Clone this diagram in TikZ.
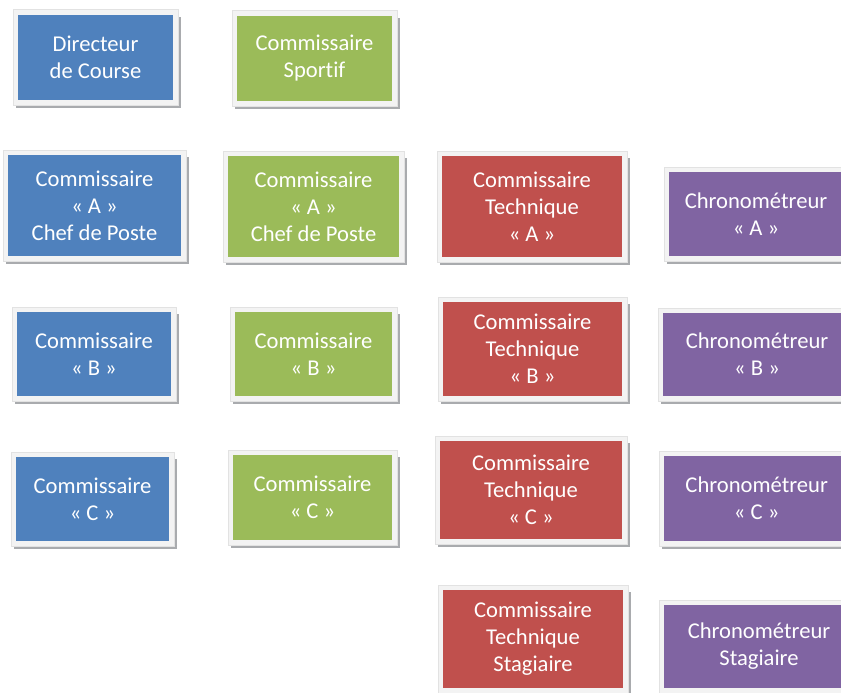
\documentclass[tikz,border=0pt]{standalone}
\usepackage{fontspec}
\setmainfont[Ligatures=NoCommon]{Carlito}
\usetikzlibrary{backgrounds}
\definecolor{cblue}{HTML}{4F81BD}
\definecolor{cgreen}{HTML}{9BBB59}
\definecolor{cred}{HTML}{C0504D}
\definecolor{cpurple}{HTML}{8064A2}
\definecolor{cframe}{HTML}{F3F3F3}
\definecolor{cframeedge}{HTML}{E2E2E2}
\definecolor{cshadow}{HTML}{A9ABAE}
\tikzset{
  kbox/.style={inner sep=0pt, text=white, align=center,
    font=\fontsize{22.6}{27}\selectfont},
}
\begin{document}
\begin{tikzpicture}[x=1pt,y=-1pt]
\useasboundingbox (0,0) rectangle (841,693);
\clip (0,0) rectangle (841,693);
% column 1 (blue)
\node[kbox, fill=cblue, minimum width=155pt, minimum height=85pt] (dc) at (95.5,57.5) {Directeur\\de Course};
\node[kbox, fill=cblue, minimum width=173pt, minimum height=101pt] (ba) at (94.5,205.5) {Commissaire\\« A »\\Chef de Poste};
\node[kbox, fill=cblue, minimum width=154pt, minimum height=84pt] (bb) at (94,354) {Commissaire\\« B »};
\node[kbox, fill=cblue, minimum width=153pt, minimum height=84pt] (bc) at (92.5,499) {Commissaire\\« C »};
% column 2 (green)
\node[kbox, fill=cgreen, minimum width=155pt, minimum height=85pt] (cs) at (314.5,58.5) {Commissaire\\Sportif};
\node[kbox, fill=cgreen, minimum width=171pt, minimum height=101pt] (ga) at (313.5,206.5) {Commissaire\\« A »\\Chef de Poste};
\node[kbox, fill=cgreen, minimum width=157pt, minimum height=84pt] (gb) at (313.5,354) {Commissaire\\« B »};
\node[kbox, fill=cgreen, minimum width=159pt, minimum height=85pt] (gc) at (312.5,497.5) {Commissaire\\« C »};
% column 3 (red)
\node[kbox, fill=cred, minimum width=180pt, minimum height=101pt] (ra) at (532,206.5) {Commissaire\\Technique\\« A »};
\node[kbox, fill=cred, minimum width=179pt, minimum height=94pt] (rb) at (532.5,349) {Commissaire\\Technique\\« B »};
\node[kbox, fill=cred, minimum width=182pt, minimum height=98pt] (rc) at (531,490) {Commissaire\\Technique\\« C »};
\node[kbox, fill=cred, minimum width=180pt, minimum height=98pt] (rs) at (533,639) {Commissaire\\Technique\\Stagiaire};
% column 4 (purple)
\node[kbox, fill=cpurple, minimum width=174pt, minimum height=84pt] (pa) at (756,214) {Chronométreur\\« A »};
\node[kbox, fill=cpurple, minimum width=188pt, minimum height=83pt] (pb) at (757,354.5) {Chronométreur\\« B »};
\node[kbox, fill=cpurple, minimum width=185pt, minimum height=85pt] (pc) at (756.7,498.5) {Chronométreur\\« C »};
\node[kbox, fill=cpurple, minimum width=190pt, minimum height=83pt] (ps) at (759,646.5) {Chronométreur\\Stagiaire};
% frames and shadows
\begin{scope}[on background layer]
\foreach \n in {dc,ba,bb,bc,cs,ga,gb,gc,ra,rb,rc,rs,pa,pb,pc,ps}{
  \fill[cshadow] ([shift={(-2pt,-2pt)}]\n.north west) rectangle ([shift={(8pt,-8pt)}]\n.south east);
  \filldraw[fill=cframe, draw=cframeedge, line width=0.6pt] ([shift={(-5pt,5pt)}]\n.north west) rectangle ([shift={(5pt,-5pt)}]\n.south east);
}
\end{scope}
\end{tikzpicture}
\end{document}
